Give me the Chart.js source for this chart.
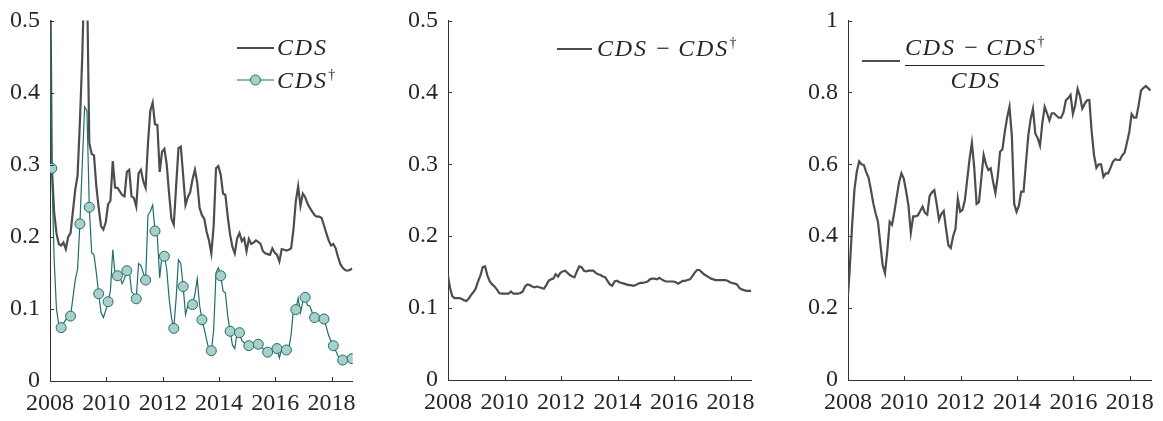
<!DOCTYPE html>
<html>
<head>
<meta charset="utf-8">
<script src="https://cdn.jsdelivr.net/npm/chart.js@4.4.1/dist/chart.umd.min.js"></script>
<style>
  html, body { margin: 0; padding: 0; background: #ffffff; }
  #wrap { position: relative; width: 1163px; height: 421px; overflow: hidden; background: #ffffff; }
  #wrap canvas { position: absolute; top: 0; }
</style>
</head>
<body>
<div id="wrap">
  <canvas id="cLevels" width="385" height="421" style="left:0px;width:385px;height:421px"></canvas>
  <canvas id="cGap" width="385" height="421" style="left:398px;width:385px;height:421px"></canvas>
  <canvas id="cShare" width="365" height="421" style="left:798px;width:365px;height:421px"></canvas>
</div>
<script>
// ---- time axis: sample start, then monthly observations ----
const dates = [2008];
for (let j = 0; j < 129; j++) dates.push(2008 + (j + 0.75) / 12);

// ---- tick labels ----
const yearTicks = [2008, 2010, 2012, 2014, 2016, 2018];
const levelTicks = [0, 0.1, 0.2, 0.3, 0.4, 0.5];
const shareTicks = [0, 0.2, 0.4, 0.6, 0.8, 1];

// ---- series ----
const cds = [0.62,
  0.30, 0.235, 0.205, 0.19, 0.188, 0.192, 0.183, 0.20, 0.205, 0.235,
  0.265, 0.285, 0.36, 0.45, 0.58, 0.56, 0.33, 0.315, 0.313, 0.27,
  0.24, 0.215, 0.21, 0.22, 0.245, 0.25, 0.305, 0.268, 0.268, 0.263,
  0.258, 0.256, 0.29, 0.293, 0.256, 0.254, 0.242, 0.288, 0.293, 0.277,
  0.268, 0.33, 0.375, 0.386, 0.356, 0.355, 0.29, 0.318, 0.322, 0.30,
  0.26, 0.225, 0.217, 0.27, 0.323, 0.325, 0.285, 0.244, 0.255, 0.262,
  0.28, 0.293, 0.275, 0.24, 0.23, 0.225, 0.207, 0.195, 0.177, 0.215,
  0.295, 0.298, 0.286, 0.26, 0.258, 0.228, 0.203, 0.186, 0.177, 0.198,
  0.205, 0.194, 0.198, 0.18, 0.197, 0.19, 0.192, 0.195, 0.193, 0.19,
  0.18, 0.177, 0.176, 0.175, 0.184, 0.178, 0.175, 0.166, 0.183, 0.182,
  0.181, 0.182, 0.184, 0.21, 0.249, 0.27, 0.243, 0.26, 0.255, 0.246,
  0.24, 0.235, 0.23, 0.228, 0.228, 0.226, 0.216, 0.205, 0.195, 0.188,
  0.19, 0.184, 0.172, 0.162, 0.157, 0.154, 0.153, 0.154, 0.156];

const cdsDagger = [0.48,
  0.295, 0.17, 0.10, 0.078, 0.074, 0.08, 0.085, 0.088, 0.090, 0.115,
  0.14, 0.155, 0.218, 0.30, 0.38, 0.375, 0.241, 0.178, 0.175, 0.15,
  0.121, 0.095, 0.088, 0.098, 0.110, 0.125, 0.182, 0.148, 0.146, 0.145,
  0.135, 0.142, 0.153, 0.155, 0.124, 0.12, 0.114, 0.163, 0.16, 0.15,
  0.140, 0.23, 0.235, 0.244, 0.208, 0.20, 0.143, 0.175, 0.173, 0.155,
  0.115, 0.088, 0.073, 0.115, 0.168, 0.163, 0.131, 0.092, 0.105, 0.104,
  0.106, 0.12, 0.142, 0.105, 0.085, 0.072, 0.057, 0.043, 0.042, 0.07,
  0.15, 0.157, 0.146, 0.125, 0.122, 0.09, 0.069, 0.05, 0.045, 0.068,
  0.067, 0.056, 0.053, 0.05, 0.049, 0.052, 0.05, 0.055, 0.051, 0.047,
  0.045, 0.042, 0.040, 0.043, 0.045, 0.04, 0.045, 0.032, 0.045, 0.044,
  0.043, 0.045, 0.064, 0.1, 0.099, 0.115, 0.095, 0.11, 0.116, 0.105,
  0.104, 0.095, 0.088, 0.087, 0.085, 0.086, 0.086, 0.075, 0.063, 0.055,
  0.049, 0.042, 0.035, 0.03, 0.029, 0.028, 0.029, 0.030, 0.031];

const cdsGap = [0.145,
  0.13, 0.117, 0.114, 0.114, 0.114, 0.113, 0.111, 0.110, 0.113, 0.118,
  0.122, 0.127, 0.137, 0.145, 0.157, 0.158, 0.145, 0.137, 0.133, 0.13,
  0.126, 0.121, 0.12, 0.12, 0.12, 0.12, 0.123, 0.12, 0.12, 0.12,
  0.121, 0.123, 0.13, 0.133, 0.132, 0.13, 0.129, 0.13, 0.129, 0.128,
  0.127, 0.132, 0.138, 0.14, 0.141, 0.147, 0.144, 0.149, 0.151, 0.152,
  0.149, 0.146, 0.144, 0.143, 0.151, 0.158, 0.157, 0.152, 0.151, 0.152,
  0.152, 0.152, 0.149, 0.147, 0.146, 0.144, 0.143, 0.138, 0.133, 0.131,
  0.137, 0.138, 0.136, 0.135, 0.134, 0.133, 0.132, 0.132, 0.131, 0.132,
  0.134, 0.135, 0.135, 0.136, 0.137, 0.14, 0.141, 0.141, 0.14, 0.142,
  0.14, 0.138, 0.137, 0.137, 0.137, 0.137, 0.136, 0.134, 0.136, 0.138,
  0.138, 0.139, 0.14, 0.144, 0.149, 0.153, 0.153, 0.15, 0.147, 0.145,
  0.143, 0.141, 0.14, 0.139, 0.139, 0.139, 0.139, 0.139, 0.138, 0.136,
  0.135, 0.134, 0.133, 0.128, 0.126, 0.125, 0.124, 0.124, 0.124];

const cdsShare = [0.235,
  0.31, 0.43, 0.53, 0.58, 0.608, 0.6, 0.598, 0.578, 0.563, 0.529,
  0.492, 0.464, 0.44, 0.38, 0.32, 0.297, 0.36, 0.44, 0.432, 0.468,
  0.51, 0.55, 0.575, 0.56, 0.525, 0.485, 0.41, 0.455, 0.455, 0.458,
  0.47, 0.482, 0.465, 0.46, 0.512, 0.522, 0.528, 0.49, 0.445, 0.462,
  0.47, 0.42, 0.375, 0.367, 0.40, 0.42, 0.505, 0.468, 0.473, 0.50,
  0.557, 0.615, 0.66, 0.59, 0.49, 0.495, 0.56, 0.626, 0.60, 0.584,
  0.589, 0.552, 0.52, 0.566, 0.635, 0.642, 0.69, 0.73, 0.76, 0.68,
  0.49, 0.468, 0.485, 0.524, 0.524, 0.603, 0.68, 0.725, 0.755, 0.685,
  0.673, 0.652, 0.715, 0.76, 0.742, 0.722, 0.742, 0.742, 0.735, 0.73,
  0.73, 0.745, 0.778, 0.784, 0.793, 0.74, 0.765, 0.81, 0.79, 0.755,
  0.768, 0.778, 0.779, 0.69, 0.625, 0.59, 0.6, 0.6, 0.565, 0.575,
  0.575, 0.59, 0.607, 0.614, 0.612, 0.612, 0.625, 0.632, 0.66, 0.69,
  0.74, 0.73, 0.73, 0.765, 0.805, 0.812, 0.818, 0.812, 0.805];

// ---- styling ----
const FONT = '"Liberation Serif", "Times New Roman", serif';
const TEXT = '#262626';
const AXIS = '#333333';
const DARK = '#4d4d4d';
const TEAL = '#1e6e6a';
const TEAL_FILL = '#a8cfca';

const toPoints = vals => vals.map((v, i) => ({ x: dates[i], y: v }));
// a marker on every fourth monthly observation
const markerRadius = dates.map((d, i) => (i >= 1 && (i - 1) % 4 === 0) ? 5 : 0);

function xAxis(height) {
  return {
    type: 'linear', min: 2008, max: 2018.75,
    afterBuildTicks: s => { s.ticks = yearTicks.map(v => ({ value: v })); },
    ticks: { callback: v => String(v), color: TEXT, font: { family: FONT, size: 24 },
             padding: 8, maxRotation: 0, autoSkip: false },
    grid: { drawOnChartArea: false, drawTicks: false },
    border: { color: AXIS, width: 1 },
    afterFit: s => { s.height = height; s.paddingLeft = 0; s.paddingRight = 0; }
  };
}
function yAxis(max, tickList) {
  return {
    type: 'linear', min: 0, max: max,
    afterBuildTicks: s => { s.ticks = tickList.map(v => ({ value: v })); },
    ticks: { callback: v => String(+v.toFixed(2)), color: TEXT, font: { family: FONT, size: 24 },
             padding: 10, autoSkip: false },
    grid: { drawOnChartArea: false, drawTicks: false },
    border: { color: AXIS, width: 1 },
    afterFit: s => { s.width = 50; s.paddingTop = 0; s.paddingBottom = 0; }
  };
}

// tick marks pointing into the plot
const inwardTicks = {
  id: 'inwardTicks',
  afterDatasetsDraw(chart) {
    const { ctx, chartArea: a, scales: { x, y } } = chart;
    ctx.save();
    ctx.strokeStyle = AXIS; ctx.lineWidth = 1;
    ctx.beginPath();
    x.ticks.forEach(t => {
      const px = Math.round(x.getPixelForValue(t.value)) + 0.5;
      ctx.moveTo(px, a.bottom); ctx.lineTo(px, a.bottom - 4);
    });
    y.ticks.forEach(t => {
      const py = Math.round(y.getPixelForValue(t.value)) + 0.5;
      ctx.moveTo(a.left, py); ctx.lineTo(a.left + 4, py);
    });
    ctx.stroke();
    ctx.restore();
  }
};

// ---- math-style legend text ----
const MATH_SIZE = 24;
function italicRun(ctx, text, x, base) {
  ctx.font = `italic ${MATH_SIZE}px ${FONT}`;
  ctx.letterSpacing = '1.8px';
  ctx.textAlign = 'left'; ctx.textBaseline = 'alphabetic';
  ctx.fillText(text, x, base);
  const w = ctx.measureText(text).width;
  ctx.letterSpacing = '0px';
  return x + w;
}
function dagger(ctx, x, base) {
  ctx.font = `${Math.round(MATH_SIZE * 0.6)}px ${FONT}`;
  ctx.letterSpacing = '0px';
  ctx.fillText('\u2020', x + 0.5, base - 9);
  return x + ctx.measureText('\u2020').width + 0.5;
}
function minus(ctx, x, base) {
  ctx.font = `${MATH_SIZE}px ${FONT}`;
  ctx.letterSpacing = '0px';
  const gap = 8.5;
  ctx.fillText('\u2212', x + gap, base);
  return x + gap + ctx.measureText('\u2212').width + gap;
}
function gapExpr(ctx, x, base) {
  let cx = italicRun(ctx, 'CDS', x, base);
  cx = minus(ctx, cx, base);
  cx = italicRun(ctx, 'CDS', cx, base);
  return dagger(ctx, cx, base);
}
function sampleLine(ctx, x0, x1, y, color, width) {
  ctx.save();
  ctx.strokeStyle = color; ctx.lineWidth = width;
  ctx.beginPath(); ctx.moveTo(x0, y); ctx.lineTo(x1, y); ctx.stroke();
  ctx.restore();
}

const legendLevels = {
  id: 'legendLevels',
  afterDraw(chart) {
    const { ctx, chartArea: a } = chart;
    const L = a.left, T = a.top;
    ctx.save();
    ctx.fillStyle = TEXT;
    sampleLine(ctx, L + 187, L + 224, T + 27.5, DARK, 2.2);
    italicRun(ctx, 'CDS', L + 227, T + 34.5);
    sampleLine(ctx, L + 187, L + 224, T + 59.5, TEAL, 1.2);
    ctx.beginPath();
    ctx.arc(L + 205.5, T + 59.5, 5, 0, Math.PI * 2);
    ctx.fillStyle = TEAL_FILL; ctx.fill();
    ctx.strokeStyle = TEAL; ctx.lineWidth = 1; ctx.stroke();
    ctx.fillStyle = TEXT;
    const cx = italicRun(ctx, 'CDS', L + 227, T + 67.5);
    dagger(ctx, cx, T + 67.5);
    ctx.restore();
  }
};
const legendGap = {
  id: 'legendGap',
  afterDraw(chart) {
    const { ctx, chartArea: a } = chart;
    const L = a.left, T = a.top;
    ctx.save();
    ctx.fillStyle = TEXT;
    sampleLine(ctx, L + 109, L + 144, T + 28.5, DARK, 2.2);
    gapExpr(ctx, L + 149, T + 35.5);
    ctx.restore();
  }
};
const legendShare = {
  id: 'legendShare',
  afterDraw(chart) {
    const { ctx, chartArea: a } = chart;
    const L = a.left, T = a.top;
    ctx.save();
    ctx.fillStyle = TEXT;
    sampleLine(ctx, L + 14, L + 52, T + 40.5, DARK, 2.2);
    const x0 = L + 57;
    const x1 = gapExpr(ctx, x0, T + 34.5);
    ctx.strokeStyle = TEXT; ctx.lineWidth = 1;
    ctx.beginPath(); ctx.moveTo(x0, Math.round(T + 44.5) + 0.5); ctx.lineTo(x1, Math.round(T + 44.5) + 0.5); ctx.stroke();
    ctx.font = `italic ${MATH_SIZE}px ${FONT}`;
    ctx.letterSpacing = '1.8px';
    const w = ctx.measureText('CDS').width;
    italicRun(ctx, 'CDS', (x0 + x1) / 2 - w / 2 + 1, T + 67.5);
    ctx.restore();
  }
};

function makeChart(id, datasets, yMax, yTicks, xHeight, rightPad, legend) {
  return new Chart(document.getElementById(id), {
    type: 'line',
    data: { datasets },
    options: {
      responsive: false, animation: false, events: [],
      layout: { padding: { top: 20.5, right: rightPad, bottom: 0, left: 0 } },
      plugins: { legend: { display: false }, tooltip: { enabled: false } },
      scales: { x: xAxis(xHeight), y: yAxis(yMax, yTicks) }
    },
    plugins: [inwardTicks, legend]
  });
}

makeChart('cLevels', [
  { label: 'CDS\u2020', data: toPoints(cdsDagger), order: 0,
    borderColor: TEAL, borderWidth: 1.2, tension: 0,
    pointRadius: markerRadius, pointBackgroundColor: TEAL_FILL,
    pointBorderColor: TEAL, pointBorderWidth: 1 },
  { label: 'CDS', data: toPoints(cds), order: 1,
    borderColor: DARK, borderWidth: 2.2, tension: 0, pointRadius: 0 }
], 0.5, levelTicks, 40, 32.3, legendLevels);

makeChart('cGap', [
  { label: 'CDS \u2212 CDS\u2020', data: toPoints(cdsGap),
    borderColor: DARK, borderWidth: 2.2, tension: 0, pointRadius: 0 }
], 0.5, levelTicks, 41, 31.3, legendGap);

makeChart('cShare', [
  { label: '(CDS \u2212 CDS\u2020) / CDS', data: toPoints(cdsShare),
    borderColor: DARK, borderWidth: 2.2, tension: 0, pointRadius: 0 }
], 1, shareTicks, 41, 12, legendShare);
</script>
</body>
</html>
